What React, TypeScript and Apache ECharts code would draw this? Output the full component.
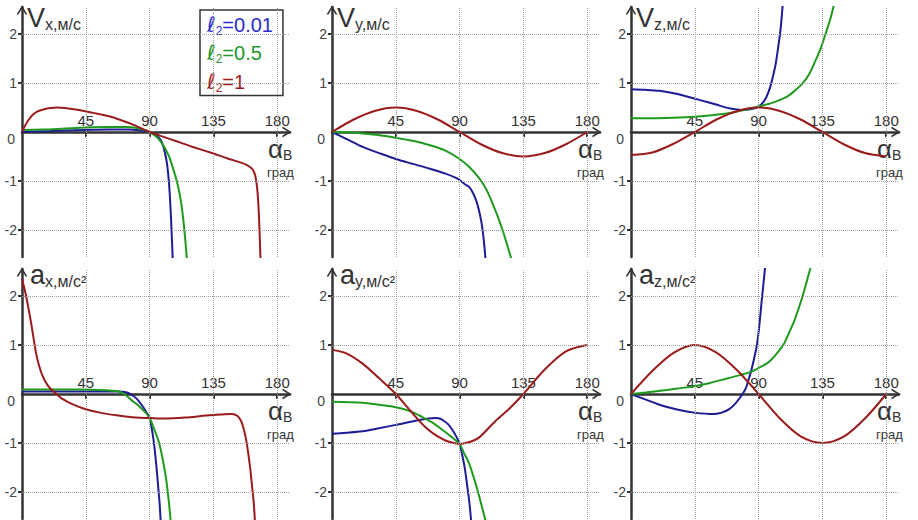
import React, { useEffect, useRef } from 'react';
import * as echarts from 'echarts';

// ---- ticks / labels ----
const xTicks = [45, 90, 135, 180];
const yTicks = [-2, -1, 1, 2];
const yLabels = [-2, -1, 0, 1, 2];
const seriesNames = ['0.01', '0.5', '1'];

// ---- Vx ----
const vxL001 = [[0,0],[10,0.01],[20,0.02],[30,0.03],[45,0.04],[60,0.05],[75,0.05],[84,0.03],[90,0],[95,-0.07],[98,-0.17],[100,-0.33],[101.5,-0.52],[102.5,-0.7],[103.5,-0.98],[104.2,-1.27],[105,-1.7],[105.6,-2.1],[106.3,-2.6]];
const vxL05 = [[0,0.04],[15,0.05],[30,0.07],[45,0.09],[60,0.1],[75,0.1],[84,0.06],[90,0],[95,-0.1],[98,-0.2],[101,-0.34],[104,-0.52],[106,-0.7],[108,-0.88],[110,-1.1],[112,-1.4],[113.5,-1.72],[114.5,-2.0],[115.5,-2.32],[116.3,-2.6]];
const vxL1 = [[0,0],[2,0.12],[4,0.22],[6,0.3],[8,0.36],[11,0.42],[15,0.46],[20,0.49],[25,0.5],[30,0.49],[40,0.45],[50,0.39],[60,0.33],[70,0.24],[80,0.13],[90,0],[100,-0.1],[110,-0.2],[120,-0.3],[135,-0.44],[145,-0.54],[155,-0.63],[159,-0.68],[161.5,-0.73],[163,-0.78],[164.2,-0.86],[165.1,-0.98],[165.8,-1.14],[166.4,-1.34],[167,-1.65],[167.5,-2.0],[168,-2.44],[168.2,-2.6]];

// ---- Vy ----
const vyL001 = [[0,0],[10,-0.14],[22,-0.31],[35,-0.45],[45,-0.55],[57,-0.65],[69,-0.75],[80,-0.85],[87,-0.93],[90,-0.98],[94,-1.07],[97,-1.13],[99.5,-1.25],[101.7,-1.4],[103.5,-1.58],[105.2,-1.81],[106.2,-2.0],[107.1,-2.22],[108.3,-2.6]];
const vyL05 = [[0,0],[15,-0.01],[22,-0.03],[35,-0.07],[45,-0.12],[57,-0.18],[69,-0.27],[80,-0.38],[90,-0.55],[97,-0.72],[104,-0.95],[109,-1.18],[113.4,-1.47],[117,-1.73],[120.4,-2.01],[123.5,-2.3],[126.6,-2.6]];
const vyL1 = [[0,0],[15,0.25],[30,0.43],[45,0.5],[60,0.43],[75,0.25],[90,0],[105,-0.25],[120,-0.43],[135,-0.5],[150,-0.43],[165,-0.25],[180,0]];

// ---- Vz ----
const vzL001 = [[0,0.87],[10,0.86],[20,0.84],[30,0.79],[40,0.72],[50,0.64],[60,0.56],[70,0.48],[78,0.45],[85,0.47],[90,0.52],[93,0.6],[95.4,0.71],[98,0.9],[100,1.12],[102,1.38],[103.5,1.67],[105,1.98],[105.9,2.22],[107,2.6]];
const vzL05 = [[0,0.28],[15,0.28],[30,0.29],[45,0.31],[60,0.35],[75,0.42],[90,0.52],[100,0.6],[109.4,0.71],[115,0.83],[121,0.99],[126,1.2],[130.3,1.47],[134,1.72],[137.3,2.01],[140.5,2.3],[143.2,2.6]];
const vzL1 = [[0,-0.47],[15,-0.42],[30,-0.24],[45,0],[60,0.25],[75,0.43],[90,0.5],[105,0.43],[120,0.25],[135,0],[150,-0.25],[165,-0.43],[180,-0.5]];

// ---- ax ----
const axL001 = [[0,0.05],[20,0.05],[40,0.05],[60,0.05],[68,0.05],[74,0.03],[78,-0.03],[81,-0.1],[84.8,-0.24],[87.5,-0.36],[90,-0.49],[91.5,-0.7],[93,-0.99],[94.2,-1.3],[95.4,-1.67],[96.2,-1.95],[97,-2.21],[97.8,-2.6]];
const axL05 = [[0,0.09],[20,0.09],[40,0.09],[55,0.08],[62,0.07],[68.4,0.05],[73,-0.02],[77.8,-0.14],[81,-0.21],[84.8,-0.31],[87.5,-0.39],[90,-0.49],[93,-0.7],[96.6,-0.99],[99,-1.3],[101.3,-1.67],[102.6,-1.95],[103.6,-2.21],[104.9,-2.6]];
const axL1 = [[0,2.35],[2.8,2.01],[6.3,1.47],[9.8,0.85],[12,0.58],[14.5,0.37],[18,0.18],[21.5,0.07],[25,-0.02],[28.5,-0.1],[35,-0.2],[45,-0.31],[55,-0.38],[68,-0.44],[80,-0.48],[90,-0.49],[100,-0.5],[115,-0.48],[130,-0.44],[140,-0.42],[148,-0.41],[152,-0.45],[154.5,-0.55],[156,-0.68],[157.5,-0.85],[159,-1.1],[161,-1.53],[162.3,-1.9],[163.4,-2.21],[164.3,-2.6]];

// ---- ay ----
const ayL001 = [[0,-0.81],[10,-0.79],[21.6,-0.76],[33,-0.7],[45,-0.63],[61.4,-0.53],[68,-0.5],[73.2,-0.49],[76,-0.5],[79,-0.55],[82,-0.62],[84.8,-0.73],[87.5,-0.86],[90,-1.02],[91.5,-1.2],[93,-1.41],[94.2,-1.62],[95.4,-1.88],[96.6,-2.15],[97.7,-2.45],[98.1,-2.6]];
const ayL05 = [[0,-0.16],[21.6,-0.18],[33,-0.22],[45,-0.27],[55,-0.35],[63.7,-0.47],[70,-0.57],[77.8,-0.73],[84,-0.87],[90,-1.02],[93,-1.2],[96.6,-1.41],[99.5,-1.66],[102.5,-1.95],[105,-2.22],[107.1,-2.45],[108.3,-2.6]];
const ayL1 = [[0,0.9],[10,0.83],[21.6,0.62],[33.3,0.32],[45,0],[56.7,-0.39],[66,-0.68],[72,-0.82],[78,-0.92],[82,-0.97],[86,-1.0],[90,-1.02],[94,-1.0],[98,-0.97],[103.6,-0.89],[115.3,-0.55],[125,-0.3],[135,0],[150,0.5],[165,0.87],[180,1.0]];

// ---- az ----
const azL001 = [[0,0],[10,-0.11],[22.3,-0.24],[35,-0.33],[44.7,-0.38],[57.6,-0.41],[64,-0.38],[69.3,-0.31],[74,-0.18],[78.7,0],[81,0.12],[83,0.3],[85,0.5],[87,0.75],[88.8,1.0],[90.5,1.4],[92,1.85],[93.4,2.25],[94.6,2.6]];
const azL05 = [[0,0],[10,0.03],[22.3,0.07],[35,0.12],[44.7,0.16],[55,0.22],[67,0.31],[76,0.38],[83.4,0.44],[90,0.53],[97.5,0.66],[104,0.87],[108,1.03],[111.6,1.26],[115,1.48],[119.3,1.84],[123,2.2],[126.8,2.6]];
const azL1 = [[0,0],[15,0.47],[30,0.84],[45,1.0],[60,0.85],[75,0.48],[90,0],[105,-0.5],[120,-0.87],[135,-1.0],[150,-0.87],[165,-0.5],[180,0]];

const panels = [
  { curves: [vxL001, vxL05, vxL1], sym: 'V', sub: 'x,м/с' },
  { curves: [vyL001, vyL05, vyL1], sym: 'V', sub: 'y,м/с' },
  { curves: [vzL001, vzL05, vzL1], sym: 'V', sub: 'z,м/с' },
  { curves: [axL001, axL05, axL1], sym: 'a', sub: 'x,м/с²' },
  { curves: [ayL001, ayL05, ayL1], sym: 'a', sub: 'y,м/с²' },
  { curves: [azL001, azL05, azL1], sym: 'a', sub: 'z,м/с²' },
];

const FONT = "'Liberation Sans', Arial, sans-serif";
const AXIS_COLOR = '#333';
const TEXT_COLOR = '#333';
const lineColors = ['#1c1c96', '#1e9a1e', '#9b1b1b'];
const legendColors = ['#2a2ad0', '#24962a', '#a01e1e'];
const ARROW = 'path://M0,10 L6,0 L12,10 L10,10 L6,3.4 L2,10 Z';

const colX = [22, 332, 631];
const rowTop = [7, 269];
const GRID_W = 268;
const GRID_H = 250;
const X_MAX = 189;
const Y_MIN = -2.55;
const Y_MAX = 2.55;

export default function App() {
  const ref = useRef<HTMLDivElement>(null);
  useEffect(() => {
    const chart = echarts.init(ref.current as HTMLDivElement, null, { renderer: 'svg' });
    const grids: any[] = [];
    const xAxes: any[] = [];
    const yAxes: any[] = [];
    const series: any[] = [];
    const graphics: any[] = [];
    const zeroFromBottom = (GRID_H * (0 - Y_MIN)) / (Y_MAX - Y_MIN);

    panels.forEach((p, i) => {
      const col = i % 3;
      const row = Math.floor(i / 3);
      const left = colX[col];
      const top = rowTop[row];
      const y0 = top + GRID_H - zeroFromBottom;
      grids.push({ left, top, width: GRID_W, height: GRID_H, containLabel: false, outerBoundsMode: 'none' });
      xAxes.push({
        gridIndex: i,
        type: 'value',
        position: 'bottom',
        offset: -zeroFromBottom,
        min: 0,
        max: X_MAX,
        axisLine: {
          onZero: false,
          lineStyle: { color: AXIS_COLOR, width: 2.5 },
          symbol: ['none', ARROW],
          symbolSize: [12, 9],
          symbolOffset: [0, -3],
        },
        axisTick: { show: true, customValues: xTicks, length: 5, lineStyle: { color: AXIS_COLOR, width: 2 } },
        axisLabel: { customValues: xTicks, inside: true, margin: 4, fontSize: 15, color: TEXT_COLOR, fontFamily: FONT },
        splitLine: { show: false },
      });
      yAxes.push({
        gridIndex: i,
        type: 'value',
        min: Y_MIN,
        max: Y_MAX,
        axisLine: {
          onZero: false,
          lineStyle: { color: AXIS_COLOR, width: 2.5 },
          symbol: ['none', ARROW],
          symbolSize: [12, 9],
          symbolOffset: [0, -3],
        },
        axisTick: { show: true, customValues: yTicks, length: 4, lineStyle: { color: AXIS_COLOR, width: 2 } },
        axisLabel: {
          customValues: yLabels,
          margin: 5,
          fontSize: 14,
          color: '#444',
          fontFamily: FONT,
          formatter: (v: number) => (v === 0 ? '{z|0}' : String(v)),
          rich: { z: { fontSize: 14, color: '#444', fontFamily: FONT, padding: [14, 2, 0, 0] } },
        },
        splitLine: { show: false },
      });
      series.push({
        type: 'line',
        name: 'grid' + i,
        xAxisIndex: i,
        yAxisIndex: i,
        data: [],
        silent: true,
        z: 1,
        markLine: {
          silent: true,
          animation: false,
          symbol: ['none', 'none'],
          label: { show: false },
          lineStyle: { type: 'dotted', color: '#a0a0a0', width: 1 },
          data: [...xTicks.map((v) => ({ xAxis: v })), ...yTicks.map((v) => ({ yAxis: v }))],
        },
      });
      p.curves.forEach((c, k) => {
        series.push({
          type: 'line',
          name: seriesNames[k],
          xAxisIndex: i,
          yAxisIndex: i,
          data: c,
          showSymbol: false,
          smooth: 0.3,
          clip: true,
          z: 3,
          lineStyle: { color: lineColors[k], width: 2 },
          itemStyle: { color: lineColors[k] },
        });
      });
      // axis titles
      graphics.push({
        type: 'text',
        x: left + (row === 0 ? 5 : 8),
        y: y0 - (row === 0 ? 128 : 133),
        style: {
          text: `{a|${p.sym}}{b|${p.sub}}`,
          verticalAlign: 'top',
          rich: {
            a: { fontSize: 27, lineHeight: 28, fontFamily: FONT, fill: TEXT_COLOR },
            b: { fontSize: 16, lineHeight: 14, verticalAlign: 'bottom', fontFamily: FONT, fill: TEXT_COLOR },
          },
        },
      });
      graphics.push({
        type: 'text',
        x: left + 246,
        y: y0 + 4,
        style: {
          text: '{a|α}{b|B}',
          verticalAlign: 'top',
          rich: {
            a: { fontSize: 26, lineHeight: 26, fontFamily: FONT, fill: TEXT_COLOR },
            b: { fontSize: 14, lineHeight: 12, verticalAlign: 'bottom', fontFamily: FONT, fill: TEXT_COLOR },
          },
        },
      });
      graphics.push({
        type: 'text',
        x: left + 245,
        y: y0 + 40,
        style: { text: 'град', fontSize: 13, lineHeight: 12, fontFamily: FONT, fill: TEXT_COLOR, verticalAlign: 'middle' },
      });
    });

    const legendRich: any = {};
    seriesNames.forEach((n, k) => {
      legendRich['l' + k] = { fontSize: 21, fontStyle: 'italic', fontFamily: "'DejaVu Sans', sans-serif", color: legendColors[k], lineHeight: 24 };
      legendRich['s' + k] = { fontSize: 12, fontFamily: FONT, color: legendColors[k], lineHeight: 14, verticalAlign: 'bottom' };
      legendRich['t' + k] = { fontSize: 20, fontFamily: FONT, color: legendColors[k], lineHeight: 24 };
    });

    chart.setOption({
      animation: false,
      backgroundColor: '#ffffff',
      grid: grids,
      xAxis: xAxes,
      yAxis: yAxes,
      series,
      graphic: { elements: graphics },
      legend: {
        show: true,
        selectedMode: false,
        data: seriesNames.map((n) => ({ name: n, icon: 'none' })),
        orient: 'vertical',
        left: 200,
        top: 10,
        itemWidth: 0,
        itemHeight: 14,
        itemGap: 6,
        padding: [4, 10, 2, 2],
        borderColor: '#333',
        borderWidth: 1.5,
        backgroundColor: '#fff',
        formatter: (name: string) => {
          const k = seriesNames.indexOf(name);
          return `{l${k}|ℓ}{s${k}|2}{t${k}|=${name}}`;
        },
        textStyle: { rich: legendRich },
      },
    });
    return () => chart.dispose();
  }, []);
  return (
    <div
      ref={ref}
      style={{ position: 'absolute', left: 0, top: 0, width: 918, height: 520, background: '#fff' }}
    />
  );
}
